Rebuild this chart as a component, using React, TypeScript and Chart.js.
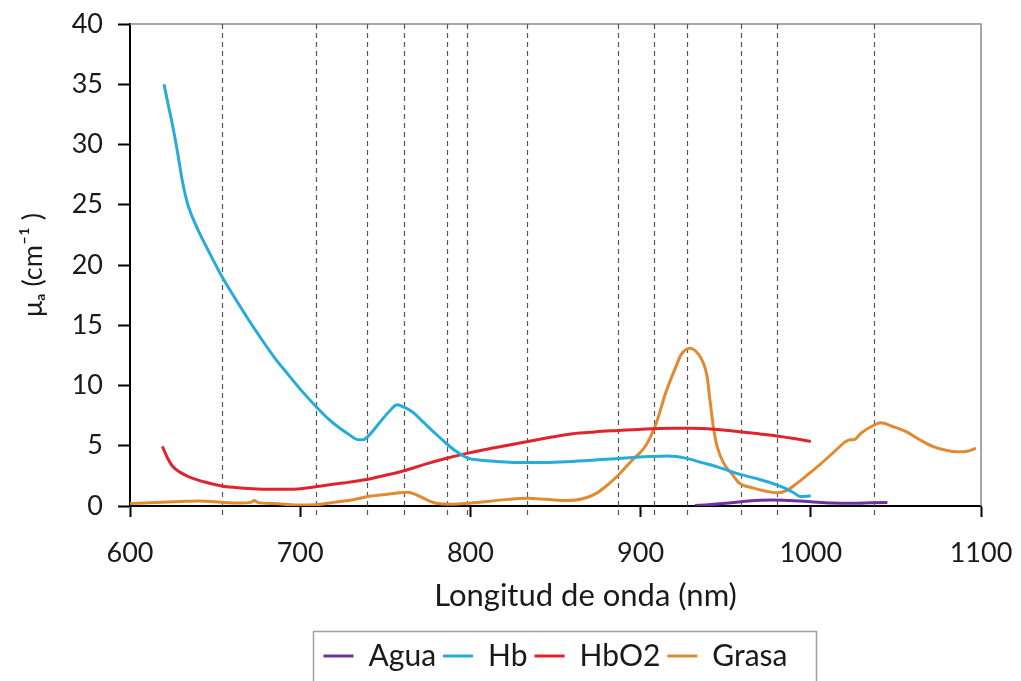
import React, { useEffect, useRef } from "react";
import { Chart, registerables } from "chart.js";

Chart.register(...registerables);

const FONT = "Lato, 'Open Sans', 'Liberation Sans', sans-serif";

// Axis configuration values
const xMin = 600;
const xMax = 1100;
const xStep = 100;
const yMin = 0;
const yMax = 40;
const yStep = 5;

// Wavelengths (nm) of the dashed reference lines
const markerNm = [654, 709, 739, 761, 786, 798, 833, 887, 908, 927, 959, 980, 1037];

// Agua
const aguaNm = [932, 940, 950, 960, 970, 978, 988, 1000, 1012, 1025, 1035, 1045];
const aguaVal = [0.05, 0.1, 0.22, 0.38, 0.48, 0.5, 0.45, 0.35, 0.25, 0.22, 0.26, 0.3];

// Hb
const hbNm = [620, 622, 625, 628, 631, 634, 639, 646, 653, 661, 669, 677, 685, 693, 700, 709, 716, 722, 728, 734, 737, 740, 746, 752, 757, 761, 766, 772, 778, 785, 791, 798, 806, 815, 833, 860, 887, 905, 916, 927, 936, 945, 959, 970, 980, 986, 990, 994, 997, 1000];
const hbVal = [35.0, 33.6, 31.6, 29.3, 26.8, 25.0, 23.2, 21.2, 19.3, 17.4, 15.6, 13.9, 12.3, 10.9, 9.7, 8.3, 7.3, 6.6, 6.0, 5.5, 5.5, 5.8, 6.8, 7.8, 8.4, 8.2, 7.8, 7.0, 6.2, 5.3, 4.6, 4.0, 3.8, 3.7, 3.6, 3.7, 3.95, 4.1, 4.15, 3.95, 3.6, 3.25, 2.6, 2.2, 1.75, 1.4, 1.1, 0.78, 0.8, 0.85];

// HbO2
const hbo2Nm = [619, 622, 625, 630, 635, 645, 654, 665, 678, 694, 709, 725, 739, 750, 761, 773, 786, 798, 815, 833, 847, 860, 873, 887, 903, 919, 930, 943, 958, 970, 980, 990, 1000];
const hbo2Val = [4.95, 4.0, 3.3, 2.75, 2.4, 1.95, 1.66, 1.5, 1.4, 1.38, 1.6, 1.9, 2.2, 2.55, 2.93, 3.45, 3.96, 4.37, 4.85, 5.34, 5.7, 6.0, 6.15, 6.27, 6.4, 6.45, 6.45, 6.37, 6.17, 5.98, 5.81, 5.6, 5.36];

// Grasa
const grasaNm = [600, 615, 630, 640, 648, 655, 665, 671, 673, 675, 685, 698, 709, 720, 730, 739, 750, 758, 763, 767, 771, 776, 782, 790, 798, 810, 822, 833, 845, 857, 866, 874, 881, 887, 895, 903, 909, 915, 920, 924, 929, 934, 937, 939, 941, 943, 945, 949, 954, 958, 966, 973, 980, 986, 992, 999, 1005, 1013, 1020, 1023, 1025, 1030, 1037, 1041, 1048, 1056, 1064, 1072, 1080, 1086, 1092, 1097];
const grasaVal = [0.2, 0.3, 0.38, 0.42, 0.38, 0.3, 0.25, 0.3, 0.45, 0.3, 0.2, 0.08, 0.1, 0.3, 0.5, 0.77, 0.95, 1.1, 1.15, 1.0, 0.75, 0.4, 0.18, 0.15, 0.22, 0.38, 0.55, 0.64, 0.55, 0.45, 0.6, 1.05, 1.8, 2.57, 3.8, 5.0, 6.8, 9.5, 11.3, 12.6, 13.1, 12.6, 11.8, 10.8, 8.5, 6.3, 4.9, 3.5, 2.6, 1.9, 1.5, 1.25, 1.1, 1.3, 1.9, 2.7, 3.4, 4.4, 5.3, 5.5, 5.5, 6.1, 6.7, 6.9, 6.6, 6.17, 5.5, 4.92, 4.6, 4.5, 4.55, 4.8];

const seriesNames = ["Agua", "Hb", "HbO2", "Grasa"];
const seriesColors = ["#7030a0", "#27acd9", "#e0242c", "#e08a32"];

const toPoints = (xs: number[], ys: number[]) => xs.map((x, i) => ({ x, y: ys[i] }));

const xTitle = "Longitud de onda (nm)";
const yTitle = "μₐ (cm⁻¹ )";

const markerPlugin = {
  id: "markerLines",
  beforeDatasetsDraw(chart: any) {
    const { ctx, chartArea, scales } = chart;
    ctx.save();
    // plot frame (top / right)
    ctx.strokeStyle = "#8c8c8c";
    ctx.lineWidth = 1.5;
    ctx.beginPath();
    ctx.moveTo(chartArea.left, chartArea.top);
    ctx.lineTo(chartArea.right, chartArea.top);
    ctx.lineTo(chartArea.right, chartArea.bottom);
    ctx.stroke();
    // dashed lines
    ctx.strokeStyle = "#555";
    ctx.lineWidth = 1.2;
    ctx.setLineDash([5, 4]);
    markerNm.forEach((nm) => {
      const x = Math.round(scales.x.getPixelForValue(nm)) + 0.5;
      ctx.beginPath();
      ctx.moveTo(x, chartArea.top);
      ctx.lineTo(x, chartArea.bottom + 11);
      ctx.stroke();
    });
    ctx.restore();
  },
};

const decorPlugin = {
  id: "decor",
  afterDraw(chart: any) {
    const { ctx, chartArea } = chart;
    ctx.save();
    // x-axis title
    ctx.font = `31px ${FONT}`;
    ctx.fillStyle = "#1a1a1a";
    ctx.textAlign = "center";
    ctx.textBaseline = "middle";
    ctx.fillText(xTitle, (chartArea.left + chartArea.right) / 2 + 30, 596);
    // legend frame
    const boxes = chart.legend?.legendHitBoxes || [];
    if (boxes.length) {
      const left = Math.min(...boxes.map((b: any) => b.left)) - 11;
      const right = Math.max(...boxes.map((b: any) => b.left + b.width)) + 28;
      const top = Math.min(...boxes.map((b: any) => b.top)) - 10;
      ctx.strokeStyle = "#a0a0a0";
      ctx.lineWidth = 1.5;
      ctx.strokeRect(Math.round(left) + 0.5, Math.round(top) + 0.5, right - left, 200);
    }
    ctx.restore();
  },
};

export default function App() {
  const ref = useRef<HTMLCanvasElement | null>(null);
  useEffect(() => {
    if (!ref.current) return;
    const sets = [
      toPoints(aguaNm, aguaVal),
      toPoints(hbNm, hbVal),
      toPoints(hbo2Nm, hbo2Val),
      toPoints(grasaNm, grasaVal),
    ];
    const chart = new Chart(ref.current, {
      type: "line",
      data: {
        datasets: sets.map((d, i) => ({
          label: seriesNames[i],
          data: d,
          borderColor: seriesColors[i],
          backgroundColor: seriesColors[i],
          borderWidth: 3,
          pointRadius: 0,
          cubicInterpolationMode: "monotone" as const,
          fill: false,
        })),
      },
      options: {
        animation: false,
        responsive: false,
        devicePixelRatio: 1,
        layout: { padding: { left: 0, right: 40, top: 24, bottom: 0 } },
        plugins: {
          tooltip: { enabled: false },
          legend: {
            position: "bottom",
            fullSize: false,
            labels: {
              usePointStyle: true,
              pointStyle: "line",
              pointStyleWidth: 30,
              padding: 7,
              color: "#1a1a1a",
              font: { family: FONT, size: 30 },
            },
          },
        },
        scales: {
          x: {
            type: "linear",
            min: xMin,
            max: xMax,
            afterFit: (s: any) => {
              s.height = 128;
              s.paddingLeft = 0;
              s.paddingRight = 0;
            },
            ticks: {
              stepSize: xStep,
              padding: 20,
              color: "#1a1a1a",
              font: { family: FONT, size: 27 },
              maxRotation: 0,
              callback: (v: any) => String(v),
            },
            grid: {
              drawOnChartArea: false,
              drawTicks: true,
              tickLength: 11,
              tickColor: "#000",
              tickWidth: 2,
            },
            border: { color: "#000", width: 2 },
          },
          y: {
            type: "linear",
            min: yMin,
            max: yMax,
            afterFit: (s: any) => {
              s.width = 130;
              s.paddingTop = 0;
              s.paddingBottom = 0;
            },
            ticks: {
              stepSize: yStep,
              padding: 15,
              color: "#1a1a1a",
              font: { family: FONT, size: 27 },
              callback: (v: any) => String(v),
            },
            grid: {
              drawOnChartArea: false,
              drawTicks: true,
              tickLength: 12,
              tickColor: "#000",
              tickWidth: 2,
            },
            border: { color: "#000", width: 2 },
            title: {
              display: true,
              text: yTitle,
              color: "#1a1a1a",
              font: { family: FONT, size: 27 },
              padding: { top: 17, bottom: 0 },
            },
          },
        },
      },
      plugins: [markerPlugin, decorPlugin],
    });
    return () => chart.destroy();
  }, []);
  return (
    <div style={{ position: "absolute", left: 0, top: 0, width: 1021, height: 681, background: "#fff" }}>
      <canvas ref={ref} width={1021} height={681} style={{ width: 1021, height: 681 }} />
    </div>
  );
}
